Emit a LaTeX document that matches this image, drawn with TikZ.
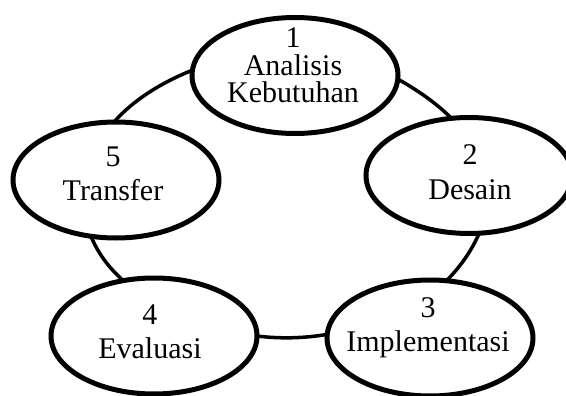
\documentclass[tikz,border=0pt]{standalone}
\usepackage{fontspec}
\setmainfont{Liberation Serif}
\usetikzlibrary{shapes.geometric}
\begin{document}
\begin{tikzpicture}[x=1pt,y=-1pt,
  stage/.style={draw=black,line width=5pt,ellipse,fill=white,
    minimum width=206pt,minimum height=116pt,inner sep=0pt,outer sep=0pt},
  stagetext/.style={align=center,inner sep=0pt,text=black,
    font=\fontsize{30}{34.5}\selectfont},
  link/.style={draw=black,line width=3.5pt}]
\useasboundingbox (0,0) rectangle (566,396);
% stages
\node[stage] (n1) at (295,75.5) {};
\node[stage] (n2) at (469,175.5) {};
\node[stage] (n3) at (430,338) {};
\node[stage] (n4) at (154,336) {};
\node[stage] (n5) at (116,180) {};
% texts
\node[stagetext,font=\fontsize{30}{27.5}\selectfont] (t1) at (293,65.4) {1\\Analisis\\Kebutuhan};
\node[stagetext] (t2) at (470,172.4) {2\\Desain};
\node[stagetext] (t3) at (428,327.8) {3\\Implementasi};
\node[stagetext] (t4) at (150,332) {4\\Evaluasi};
\node[stagetext] (t5) at (113,173.8) {5\\Transfer};
% cycle connectors (arcs of one large ellipse)
\draw[link] (n1.-2.88) .. controls (418.61,90.77) and (436.70,103.59) .. (n2.107.59);
\draw[link] (n2.-80.91) .. controls (471.75,250.36) and (460.74,266.45) .. (n3.74.62);
\draw[link] (n3.178.16) .. controls (304.17,338.26) and (280.40,338.94) .. (n4.-0.40);
\draw[link] (n4.119.84) .. controls (108.18,267.34) and (97.55,252.26) .. (n5.-114.03);
\draw[link] (n5.92.17) .. controls (133.00,100.55) and (160.11,83.12) .. (n1.177.80);
\end{tikzpicture}
\end{document}
